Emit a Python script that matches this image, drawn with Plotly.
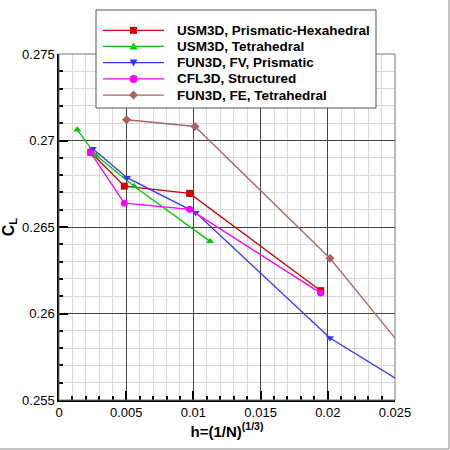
import plotly.graph_objects as go

# grid spacing h and lift coefficient
usm3d_hex_h = [0.00236, 0.00486, 0.00972, 0.01947]
usm3d_hex_cl = [0.26932, 0.26736, 0.26694, 0.26132]

usm3d_tet_h = [0.00136, 0.00275, 0.00558, 0.01124]
usm3d_tet_cl = [0.27062, 0.26914, 0.26736, 0.26417]

fun3d_fv_h = [0.00251, 0.00506, 0.01017, 0.02016, 0.04]
fun3d_fv_cl = [0.26952, 0.26785, 0.26583, 0.25858, 0.24912]

cfl3d_h = [0.00236, 0.00486, 0.00972, 0.01947]
cfl3d_cl = [0.26929, 0.26638, 0.26602, 0.26118]

fun3d_fe_h = [0.00503, 0.01012, 0.02016, 0.04]
fun3d_fe_cl = [0.27120, 0.27081, 0.26319, 0.24430]

series = [
    ("USM3D, Prismatic-Hexahedral", usm3d_hex_h, usm3d_hex_cl, "#d00000", "square"),
    ("USM3D, Tetrahedral", usm3d_tet_h, usm3d_tet_cl, "#00c800", "triangle-up"),
    ("FUN3D, FV, Prismatic", fun3d_fv_h, fun3d_fv_cl, "#3535ff", "triangle-down"),
    ("CFL3D, Structured", cfl3d_h, cfl3d_cl, "#ff00ff", "circle"),
    ("FUN3D, FE, Tetrahedral", fun3d_fe_h, fun3d_fe_cl, "#a86464", "diamond"),
]

x_ticks = [0, 0.005, 0.01, 0.015, 0.02, 0.025]
y_ticks = [0.255, 0.26, 0.265, 0.27, 0.275]

W, H = 450, 450
ML, MR, MT, MB = 59, 55, 54, 50
PW, PH = W - ML - MR, H - MT - MB
FONT = "Liberation Sans, Arial"


def px(x):
    return (x - ML) / PW


def py(y):
    return (H - MB - y) / PH


fig = go.Figure()

for name, h, cl, color, symbol in series:
    fig.add_trace(
        go.Scatter(
            x=h,
            y=cl,
            mode="lines+markers",
            name=name,
            line=dict(color=color, width=1.3),
            marker=dict(symbol=symbol, size=7, color=color),
            showlegend=False,
        )
    )

axis_common = dict(
    showgrid=True,
    gridcolor="#444444",
    gridwidth=1,
    zeroline=False,
    showline=True,
    linecolor="black",
    linewidth=1.5,
    ticks="inside",
    ticklen=9,
    tickwidth=1.5,
    tickcolor="black",
    tickfont=dict(family=FONT, size=13, color="black"),
)

fig.update_xaxes(
    range=[0, 0.025],
    tickvals=x_ticks,
    ticktext=[f"{v:g}" for v in x_ticks],
    minor=dict(dtick=0.001, showgrid=True, gridcolor="#d8d8d8", ticks="inside",
               ticklen=4, tickcolor="black"),
    title=dict(text="<b>h=(1/N)<sup>(1/3)</sup></b>", standoff=0,
               font=dict(family=FONT, size=15, color="black")),
    **axis_common,
)
fig.update_yaxes(
    range=[0.255, 0.275],
    tickvals=y_ticks,
    ticktext=[f"{v:g}" for v in y_ticks],
    minor=dict(dtick=0.001, showgrid=True, gridcolor="#d8d8d8", ticks="inside",
               ticklen=4, tickcolor="black"),
    title=dict(text="<b>C<sub>L</sub></b>", standoff=4,
               font=dict(family=FONT, size=16, color="black")),
    **axis_common,
)

# plot frame (top/right edges are grey) and the outer picture border
fig.add_shape(type="rect", xref="paper", yref="paper", x0=0, x1=1, y0=0, y1=1,
              line=dict(color="#777777", width=1), layer="above")
fig.add_shape(type="line", xref="paper", yref="paper", x0=px(449), x1=px(449),
              y0=py(0), y1=py(449), line=dict(color="#b0b0b0", width=1.5))
fig.add_shape(type="line", xref="paper", yref="paper", x0=px(0), x1=px(449),
              y0=py(449), y1=py(449), line=dict(color="#b0b0b0", width=1.5))

# hand-made legend box to match the reference layout
fig.add_shape(type="rect", xref="paper", yref="paper", x0=px(96), x1=px(376),
              y0=py(108), y1=py(10), fillcolor="white",
              line=dict(color="#555555", width=1), layer="above")

legend_rows = [30.3, 46.4, 62.6, 78.9, 95.1]
for (name, h, cl, color, symbol), row in zip(series, legend_rows):
    fig.add_shape(type="line", xref="paper", yref="paper", x0=px(103), x1=px(164),
                  y0=py(row), y1=py(row), line=dict(color=color, width=1.3),
                  layer="above")
    anchor = dict(xref="paper", yref="paper", xsizemode="pixel", ysizemode="pixel",
                  xanchor=px(133.5), yanchor=py(row), fillcolor=color,
                  line=dict(color=color, width=0), layer="above")
    if symbol == "square":
        fig.add_shape(type="rect", x0=-3.5, x1=3.5, y0=-3.5, y1=3.5, **anchor)
    elif symbol == "circle":
        fig.add_shape(type="circle", x0=-4, x1=4, y0=-4, y1=4, **anchor)
    elif symbol == "triangle-up":
        fig.add_shape(type="path", path="M-4,-3 L4,-3 L0,4 Z", **anchor)
    elif symbol == "triangle-down":
        fig.add_shape(type="path", path="M-4,3 L4,3 L0,-4 Z", **anchor)
    else:
        fig.add_shape(type="path", path="M0,-4.5 L4.5,0 L0,4.5 L-4.5,0 Z", **anchor)
    fig.add_annotation(x=px(175), y=py(row), xref="paper", yref="paper",
                       text=f"<b>{name}</b>", showarrow=False, xanchor="left",
                       yanchor="middle",
                       font=dict(family=FONT, size=13.5, color="black"))

fig.update_layout(
    width=W,
    height=H,
    margin=dict(l=ML, r=MR, t=MT, b=MB, autoexpand=False),
    paper_bgcolor="white",
    plot_bgcolor="white",
    showlegend=False,
)

# drop the browser's default 8px body margin so the figure sits at the corner
fig.write_html(
    "out.html",
    config={"displayModeBar": False},
    post_script="document.body.style.margin = '0';",
)
